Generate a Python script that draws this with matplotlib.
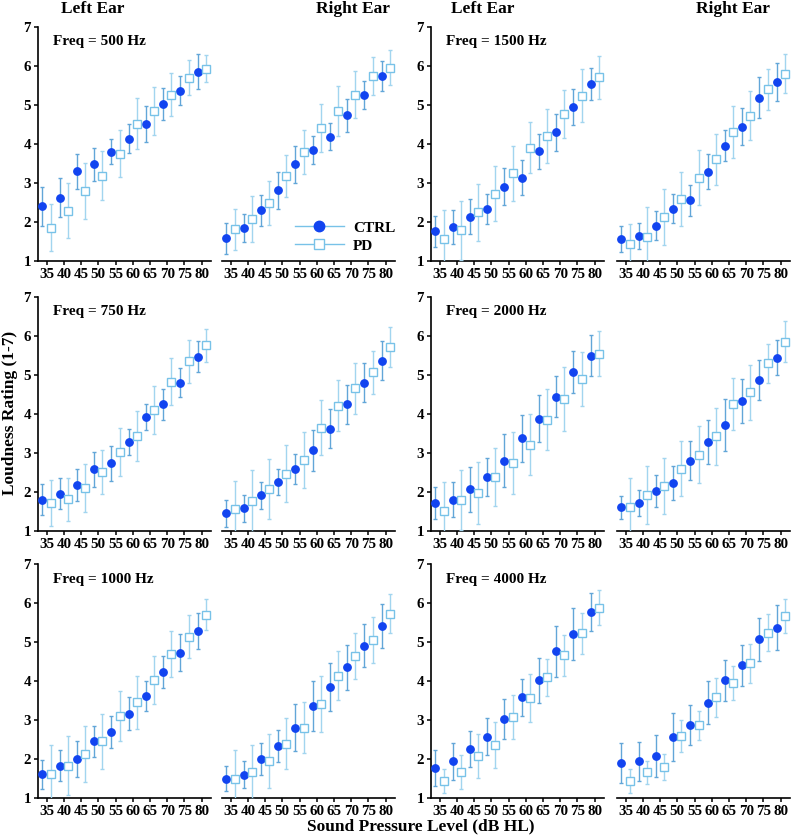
import matplotlib
matplotlib.use("Agg")
import numpy as np
import matplotlib.pyplot as plt
from matplotlib.lines import Line2D

plt.rcParams["font.family"] = ["Liberation Serif", "DejaVu Serif"]
plt.rcParams["font.weight"] = "bold"

levels = [35, 40, 45, 50, 55, 60, 65, 70, 75, 80]
ear_titles = ["Left Ear", "Right Ear", "Left Ear", "Right Ear"]

# 500 Hz
ctrl_500_left = [2.40, 2.61, 3.29, 3.47, 3.79, 4.13, 4.51, 5.02, 5.36, 5.85]
ctrl_500_left_err = [0.50, 0.50, 0.45, 0.42, 0.32, 0.38, 0.46, 0.42, 0.38, 0.45]
pd_500_left = [1.85, 2.28, 2.79, 3.18, 3.74, 4.51, 4.84, 5.26, 5.69, 5.92]
pd_500_left_err = [0.60, 0.70, 0.72, 0.63, 0.60, 0.65, 0.62, 0.55, 0.45, 0.35]
ctrl_500_right = [1.57, 1.85, 2.29, 2.80, 3.47, 3.84, 4.18, 4.73, 5.25, 5.73]
ctrl_500_right_err = [0.40, 0.36, 0.40, 0.48, 0.48, 0.35, 0.35, 0.42, 0.36, 0.38]
pd_500_right = [1.80, 2.07, 2.48, 3.18, 3.79, 4.40, 4.84, 5.26, 5.74, 5.95]
pd_500_right_err = [0.53, 0.58, 0.56, 0.54, 0.56, 0.62, 0.65, 0.60, 0.49, 0.44]

# 1500 Hz
ctrl_1500_left = [1.75, 1.86, 2.13, 2.32, 2.90, 3.13, 3.80, 4.29, 4.95, 5.53]
ctrl_1500_left_err = [0.40, 0.44, 0.44, 0.38, 0.47, 0.44, 0.45, 0.48, 0.46, 0.40]
pd_1500_left = [1.55, 1.78, 2.24, 2.72, 3.24, 3.90, 4.20, 4.76, 5.23, 5.70]
pd_1500_left_err = [0.75, 0.76, 0.73, 0.70, 0.70, 0.65, 0.70, 0.62, 0.68, 0.56]
ctrl_1500_right = [1.56, 1.63, 1.90, 2.33, 2.55, 3.28, 3.95, 4.44, 5.18, 5.59]
ctrl_1500_right_err = [0.34, 0.33, 0.38, 0.37, 0.40, 0.45, 0.40, 0.47, 0.52, 0.49]
pd_1500_right = [1.43, 1.61, 2.13, 2.59, 3.13, 3.60, 4.30, 4.72, 5.39, 5.79]
pd_1500_right_err = [0.52, 0.77, 0.72, 0.69, 0.70, 0.66, 0.66, 0.62, 0.53, 0.50]

# 750 Hz
ctrl_750_left = [1.80, 1.95, 2.17, 2.57, 2.73, 3.28, 3.91, 4.24, 4.80, 5.46]
ctrl_750_left_err = [0.40, 0.39, 0.42, 0.45, 0.45, 0.34, 0.33, 0.40, 0.37, 0.40]
pd_750_left = [1.71, 1.81, 2.09, 2.51, 3.02, 3.43, 4.09, 4.82, 5.34, 5.75]
pd_750_left_err = [0.58, 0.55, 0.62, 0.56, 0.62, 0.64, 0.62, 0.60, 0.54, 0.42]
ctrl_750_right = [1.45, 1.57, 1.91, 2.25, 2.58, 3.06, 3.62, 4.24, 4.80, 5.36]
ctrl_750_right_err = [0.35, 0.35, 0.35, 0.33, 0.38, 0.53, 0.50, 0.50, 0.50, 0.50]
pd_750_right = [1.55, 1.76, 2.07, 2.46, 2.82, 3.64, 4.21, 4.65, 5.06, 5.72]
pd_750_right_err = [0.72, 0.80, 0.77, 0.73, 0.72, 0.70, 0.66, 0.66, 0.56, 0.51]

# 2000 Hz
ctrl_2000_left = [1.71, 1.80, 2.06, 2.38, 2.80, 3.37, 3.87, 4.44, 5.07, 5.49]
ctrl_2000_left_err = [0.41, 0.45, 0.57, 0.49, 0.67, 0.60, 0.60, 0.53, 0.55, 0.52]
pd_2000_left = [1.50, 1.78, 1.96, 2.38, 2.73, 3.20, 3.85, 4.38, 4.89, 5.54]
pd_2000_left_err = [0.75, 0.77, 0.79, 0.74, 0.80, 0.78, 0.78, 0.83, 0.70, 0.58]
ctrl_2000_right = [1.60, 1.71, 2.02, 2.22, 2.80, 3.28, 3.71, 4.33, 4.87, 5.44]
ctrl_2000_right_err = [0.30, 0.33, 0.40, 0.43, 0.50, 0.57, 0.66, 0.56, 0.51, 0.46]
pd_2000_right = [1.60, 1.91, 2.14, 2.59, 2.95, 3.42, 4.24, 4.55, 5.29, 5.85]
pd_2000_right_err = [0.75, 0.74, 0.72, 0.71, 0.73, 0.73, 0.67, 0.70, 0.50, 0.52]

# 1000 Hz
ctrl_1000_left = [1.61, 1.83, 2.00, 2.45, 2.68, 3.16, 3.61, 4.23, 4.73, 5.29]
ctrl_1000_left_err = [0.37, 0.39, 0.45, 0.40, 0.41, 0.42, 0.38, 0.41, 0.48, 0.46]
pd_1000_left = [1.61, 1.83, 2.12, 2.45, 3.10, 3.46, 4.02, 4.69, 5.13, 5.70]
pd_1000_left_err = [0.74, 0.75, 0.72, 0.70, 0.65, 0.68, 0.62, 0.59, 0.55, 0.40]
ctrl_1000_right = [1.50, 1.60, 2.00, 2.34, 2.80, 3.35, 3.84, 4.35, 4.91, 5.41]
ctrl_1000_right_err = [0.31, 0.35, 0.40, 0.41, 0.60, 0.64, 0.61, 0.57, 0.56, 0.56]
pd_1000_right = [1.50, 1.67, 1.94, 2.39, 2.80, 3.40, 4.14, 4.64, 5.05, 5.72]
pd_1000_right_err = [0.72, 0.70, 0.69, 0.65, 0.65, 0.72, 0.63, 0.59, 0.58, 0.50]

# 4000 Hz
ctrl_4000_left = [1.77, 1.94, 2.26, 2.57, 3.02, 3.58, 4.02, 4.76, 5.20, 5.76]
ctrl_4000_left_err = [0.46, 0.47, 0.46, 0.47, 0.51, 0.47, 0.58, 0.65, 0.67, 0.49]
pd_4000_left = [1.43, 1.66, 2.08, 2.36, 3.08, 3.57, 4.09, 4.66, 5.22, 5.88]
pd_4000_left_err = [0.31, 0.43, 0.57, 0.60, 0.57, 0.62, 0.48, 0.53, 0.52, 0.45]
ctrl_4000_right = [1.89, 1.94, 2.07, 2.57, 2.88, 3.44, 4.02, 4.40, 5.07, 5.37]
ctrl_4000_right_err = [0.51, 0.50, 0.54, 0.61, 0.51, 0.55, 0.52, 0.53, 0.55, 0.57]
pd_4000_right = [1.43, 1.66, 1.79, 2.59, 2.86, 3.58, 3.95, 4.45, 5.24, 5.67]
pd_4000_right_err = [0.31, 0.30, 0.33, 0.42, 0.38, 0.50, 0.43, 0.51, 0.47, 0.43]

# grid layout: rows x (freq pair); each freq gets a left and right ear panel
grid_freqs = [[500, 1500], [750, 2000], [1000, 4000]]
panels = {
    (500, "left"): (ctrl_500_left, ctrl_500_left_err, pd_500_left, pd_500_left_err),
    (500, "right"): (ctrl_500_right, ctrl_500_right_err, pd_500_right, pd_500_right_err),
    (1500, "left"): (ctrl_1500_left, ctrl_1500_left_err, pd_1500_left, pd_1500_left_err),
    (1500, "right"): (ctrl_1500_right, ctrl_1500_right_err, pd_1500_right, pd_1500_right_err),
    (750, "left"): (ctrl_750_left, ctrl_750_left_err, pd_750_left, pd_750_left_err),
    (750, "right"): (ctrl_750_right, ctrl_750_right_err, pd_750_right, pd_750_right_err),
    (2000, "left"): (ctrl_2000_left, ctrl_2000_left_err, pd_2000_left, pd_2000_left_err),
    (2000, "right"): (ctrl_2000_right, ctrl_2000_right_err, pd_2000_right, pd_2000_right_err),
    (1000, "left"): (ctrl_1000_left, ctrl_1000_left_err, pd_1000_left, pd_1000_left_err),
    (1000, "right"): (ctrl_1000_right, ctrl_1000_right_err, pd_1000_right, pd_1000_right_err),
    (4000, "left"): (ctrl_4000_left, ctrl_4000_left_err, pd_4000_left, pd_4000_left_err),
    (4000, "right"): (ctrl_4000_right, ctrl_4000_right_err, pd_4000_right, pd_4000_right_err),
}

CTRL_C = "#1244f0"
CTRL_ERR = "#62a6d8"
PD_C = "#78c2e8"
PD_ERR = "#a2d5ef"

W, H = 792, 838
fig = plt.figure(figsize=(W / 100, H / 100), dpi=100)

col_left = [38, 222, 431, 617]
row_top = [26.7, 296.7, 564]
ax_w, ax_h = 173, 234

x = np.array(levels, dtype=float)
first_right = None
for r in range(3):
    for c in range(4):
        freq = grid_freqs[r][c // 2]
        ear = "left" if c % 2 == 0 else "right"
        ctrl, ctrl_err, pd_, pd_err = panels[(freq, ear)]
        ax = fig.add_axes([col_left[c] / W, 1 - (row_top[r] + ax_h) / H, ax_w / W, ax_h / H])
        ax.errorbar(x - 1.2, ctrl, yerr=ctrl_err, fmt="o", color=CTRL_C, mec=CTRL_C,
                    ecolor=CTRL_ERR, elinewidth=1.0, capsize=1.5, capthick=1.0,
                    markersize=5.3, zorder=3)
        ax.errorbar(x + 1.2, pd_, yerr=pd_err, fmt="s", color=PD_C, mfc="white", mec=PD_C,
                    mew=1.0, ecolor=PD_ERR, elinewidth=1.0, capsize=1.5, capthick=1.0,
                    markersize=5.3, zorder=3)
        ax.set_xlim(32.5, 82.7)
        ax.set_ylim(1, 7)
        ax.set_xticks(levels)
        ax.tick_params(axis="x", labelsize=10.8, length=3, width=1.1, pad=2)
        ax.spines["top"].set_visible(False)
        ax.spines["right"].set_visible(False)
        ax.spines["bottom"].set_linewidth(1.2)
        if ear == "left":
            ax.set_yticks(range(1, 8))
            ax.tick_params(axis="y", labelsize=10.8, length=3, width=1.1, pad=2)
            ax.spines["left"].set_linewidth(1.2)
            ax.text(0.088, 0.935, f"Freq = {freq} Hz", transform=ax.transAxes,
                    fontsize=11, fontweight="bold", va="center", ha="left")
        else:
            ax.spines["left"].set_visible(False)
            ax.set_yticks([])
        if r == 0 and c == 1:
            first_right = ax

handles = [
    Line2D([], [], color=PD_C, lw=1.0, marker="o", markersize=7.5, mfc=CTRL_C, mec=CTRL_C),
    Line2D([], [], color=PD_C, lw=1.0, marker="s", markersize=7, mfc="white", mec=PD_C),
]
first_right.legend(handles, ["CTRL", "PD"], loc="lower right", bbox_to_anchor=(1.08, -0.025),
                   frameon=False, handlelength=3.2, handletextpad=0.6, labelspacing=0.3,
                   prop={"size": 11, "weight": "bold"})

title_x = [93, 353, 483, 733]
for tx, t in zip(title_x, ear_titles):
    fig.text(tx / W, 1 - 9 / H, t, ha="center", va="center", fontsize=12.5, fontweight="bold")

fig.text(10 / W, 1 - 413 / H, "Loudness Rating (1-7)", rotation=90, ha="center", va="center",
         fontsize=12.5, fontweight="bold")
fig.text(421 / W, 1 - 826 / H, "Sound Pressure Level (dB HL)", ha="center", va="center",
         fontsize=12.5, fontweight="bold")

fig.savefig("out.png", dpi=100)
